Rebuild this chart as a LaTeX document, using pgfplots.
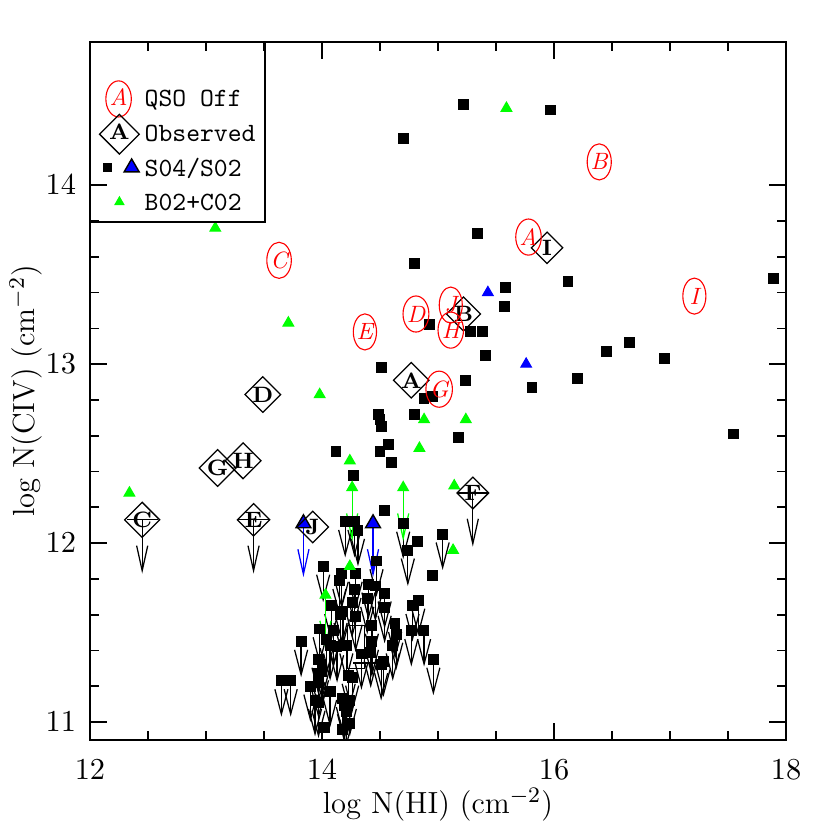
\documentclass[border=0pt]{standalone}
\usepackage{fontspec}
\usepackage{pgfplots}
\usepackage{pgfplotstable}
\pgfplotsset{compat=1.18}
\usetikzlibrary{arrows.meta,shapes.geometric}

\pgfplotstableread{
x y
15.22 14.45
15.97 14.42
14.70 14.26
15.34 13.73
14.80 13.56
16.12 13.46
15.58 13.43
15.57 13.32
14.93 13.22
15.28 13.18
15.38 13.18
15.41 13.05
14.51 12.98
16.20 12.92
15.24 12.91
15.81 12.87
16.45 13.07
16.65 13.12
16.95 13.03
17.55 12.61
17.89 13.48
14.88 12.81
14.95 12.82
14.49 12.72
14.50 12.69
14.51 12.65
14.80 12.72
15.18 12.59
14.57 12.55
14.50 12.51
14.60 12.45
14.12 12.51
14.27 12.38
14.54 12.18
14.82 12.01
14.95 11.82
14.24 10.99
14.18 10.96
14.02 10.97
}\sqdet

\pgfplotstableread{
x y
15.04 12.05
14.74 11.96
14.70 12.11
14.20 12.12
14.28 12.12
14.31 12.07
14.01 11.87
14.17 11.83
14.29 11.83
14.47 11.90
14.15 11.79
14.28 11.74
14.40 11.77
14.46 11.76
14.54 11.72
14.08 11.65
14.26 11.67
14.39 11.69
14.54 11.64
14.78 11.65
14.83 11.68
14.18 11.62
14.16 11.60
14.29 11.59
14.43 11.54
14.63 11.55
14.64 11.49
14.77 11.51
14.88 11.51
13.98 11.52
14.10 11.51
13.82 11.45
14.04 11.46
14.07 11.43
14.13 11.42
14.21 11.43
14.43 11.45
14.34 11.38
14.42 11.39
14.53 11.34
14.51 11.32
14.61 11.43
14.96 11.35
13.97 11.35
14.00 11.32
14.00 11.28
13.97 11.27
13.65 11.23
13.73 11.23
13.90 11.20
13.97 11.22
14.07 11.17
13.94 11.12
13.97 11.11
14.18 11.13
14.24 11.12
14.23 11.26
14.26 11.25
14.19 11.09
14.21 11.06
}\sqlim

\pgfplotstableread{
x y
15.59 14.43
13.08 13.76
13.71 13.23
13.98 12.83
12.34 12.28
14.88 12.69
15.24 12.69
14.84 12.53
14.24 12.46
15.14 12.32
15.13 11.96
14.24 11.87
}\grdet

\pgfplotstableread{
x y
14.26 12.31
14.70 12.31
14.03 11.71
}\grlim

\pgfplotstableread{
x y
15.43 13.40
15.76 13.00
}\bldet

\pgfplotstableread{
x y
13.84 12.11
14.44 12.11
}\bllim

\pgfplotstableread{
x y lab
14.77 12.91 A
15.22 13.28 B
12.45 12.13 C
13.49 12.83 D
13.41 12.13 E
15.30 12.28 F
13.10 12.42 G
13.32 12.46 H
15.94 13.65 I
13.92 12.09 J
}\obs

\pgfplotstableread{
x y
12.45 12.13
13.41 12.13
15.30 12.28
}\obslim

\pgfplotstableread{
x y lab
15.78 13.71 A
16.39 14.13 B
13.63 13.58 C
14.81 13.28 D
14.37 13.18 E
15.01 12.86 G
15.11 13.19 H
17.21 13.38 I
15.11 13.33 J
}\qso

\begin{document}
\begin{tikzpicture}
\begin{axis}[
  scale only axis,
  width=250.6pt, height=251.3pt,
  xmin=12, xmax=18, ymin=10.9, ymax=14.8,
  xtick={12,14,16,18}, ytick={11,12,13,14},
  minor x tick num=3, minor y tick num=4,
  tick align=inside,
  major tick length=6.2pt, minor tick length=3.2pt,
  every tick/.style={black, line width=0.6pt},
  axis line style={line width=0.7pt},
  ticklabel style={font=\fontsize{11}{13}\selectfont},
  xticklabel style={yshift=-3.5pt},
  yticklabel style={xshift=-1.5pt},
  xlabel={log N(HI) (cm$^{-2}$)},
  ylabel={log N(CIV) (cm$^{-2}$)},
  label style={font=\fontsize{11}{13}\selectfont, inner sep=0pt},
  xlabel style={at={(axis description cs:0.5,-0.093)}, anchor=center},
  ylabel style={at={(axis description cs:-0.092,0.5)}, anchor=center},
  legend cell align=left,
  legend style={at={(0,1)}, anchor=north west, yshift=-14.7pt, draw=none, fill=none,
    inner sep=0pt, row sep=0pt, font=\ttfamily\fontsize{9.5}{11}\selectfont,
    nodes={inner sep=1pt}},
]
% black squares: upper-limit arrows
\addplot[forget plot, black, line width=0.45pt, -{Straight Barb[length=9pt,width=4.7pt]},
  quiver={u=0,v=-0.2}] table {\sqlim};
\addplot[forget plot, only marks, mark=square*, mark size=1.75pt, black] table {\sqdet};
\addplot[forget plot, only marks, mark=square*, mark size=1.75pt, black] table {\sqlim};
% stray box
\addplot[forget plot, black, line width=0.4pt] coordinates {(14.22,11.54) (14.37,11.54) (14.37,11.30) (14.22,11.30) (14.22,11.54)};
\addplot[forget plot, black, line width=0.4pt] coordinates {(14.27,11.33) (14.48,11.33)};
% green
\addplot[forget plot, green, line width=0.45pt, -{Straight Barb[length=9pt,width=4pt]},
  quiver={u=0,v=-0.3}] table {\grlim};
\addplot[forget plot, only marks, mark=triangle*, mark size=2.2pt, color=green] table {\grdet};
\addplot[forget plot, only marks, mark=triangle*, mark size=2.2pt, color=green] table {\grlim};
% blue
\addplot[forget plot, only marks, mark=triangle*, mark size=2.2pt, color=blue] table {\bldet};
\addplot[forget plot, blue, line width=0.45pt, -{Straight Barb[length=9pt,width=4pt]},
  quiver={u=0,v=-0.3}] table {\bllim};
\addplot[forget plot, only marks, mark=triangle*, mark size=3.1pt,
  mark options={fill=blue, draw=black, line width=0.5pt}] table {\bllim};
% observed limits
\addplot[forget plot, black, line width=0.45pt, -{Straight Barb[length=9pt,width=4pt]},
  quiver={u=0,v=-0.3}] table {\obslim};
\addplot[forget plot, draw=none, mark=none,
  error bars/.cd, x dir=both, x fixed=0.135, error mark=none,
  error bar style={draw=black, solid, line width=0.4pt}] table {\obslim};
% observed diamonds
\addplot[forget plot, draw=none, mark=none, nodes near coords, point meta=explicit symbolic,
  nodes near coords style={anchor=center, draw=black, diamond, line width=0.45pt,
    minimum size=11.5pt, inner sep=0pt, text=black, font=\bfseries\fontsize{8}{8}\selectfont}]
  table[meta=lab] {\obs};
% QSO off ellipses
\addplot[forget plot, draw=none, mark=none, nodes near coords, point meta=explicit symbolic,
  nodes near coords style={anchor=center, draw=red, ellipse, line width=0.4pt,
    minimum width=8.3pt, minimum height=13pt, inner sep=0pt, text=red,
    font=\itshape\fontsize{8.5}{8.5}\selectfont}]
  table[meta=lab] {\qso};
% legend
\addlegendimage{legend image code/.code={
  \path[draw=none, fill=none] (0pt,-6.2pt) rectangle (18.5pt,6.2pt);
  \node[overlay, anchor=center, draw=red, ellipse, line width=0.4pt, minimum width=8.3pt, minimum height=13pt,
    inner sep=0pt, text=red, font=\itshape\fontsize{8.5}{8.5}\selectfont] at (10.1pt,0.6pt) {A};
}}
\addlegendentry{QSO Off}
\addlegendimage{legend image code/.code={
  \path[draw=none, fill=none] (0pt,-6.2pt) rectangle (18.5pt,6.2pt);
  \node[overlay, anchor=center, draw=black, diamond, line width=0.45pt, minimum size=11.5pt,
    inner sep=0pt, text=black, font=\bfseries\fontsize{8}{8}\selectfont] at (10.4pt,0.3pt) {A};
}}
\addlegendentry{Observed}
\addlegendimage{legend image code/.code={
  \path[draw=none, fill=none] (0pt,-6.2pt) rectangle (18.5pt,6.2pt);
  \fill[black, draw=none] (4.4pt,-1.0pt) rectangle (7.8pt,2.4pt);
  \filldraw[fill=blue, draw=black, line width=0.5pt] (14.8pt,3.8pt) -- (12.1pt,-0.85pt) -- (17.5pt,-0.85pt) -- cycle;
}}
\addlegendentry{S04/S02}
\addlegendimage{legend image code/.code={
  \path[draw=none, fill=none] (0pt,-6.2pt) rectangle (18.5pt,6.2pt);
  \fill[green, draw=none] (10.4pt,2.9pt) -- (8.5pt,-0.4pt) -- (12.3pt,-0.4pt) -- cycle;
}}
\addlegendentry{B02+C02}
\end{axis}
\draw[line width=0.6pt] (current axis.north west) rectangle ([shift={(63pt,-64.8pt)}]current axis.north west);
\path ([shift={(-32.4pt,-32.4pt)}]current axis.south west) rectangle ([shift={(15.84pt,15.12pt)}]current axis.north east);
\end{tikzpicture}
\end{document}
